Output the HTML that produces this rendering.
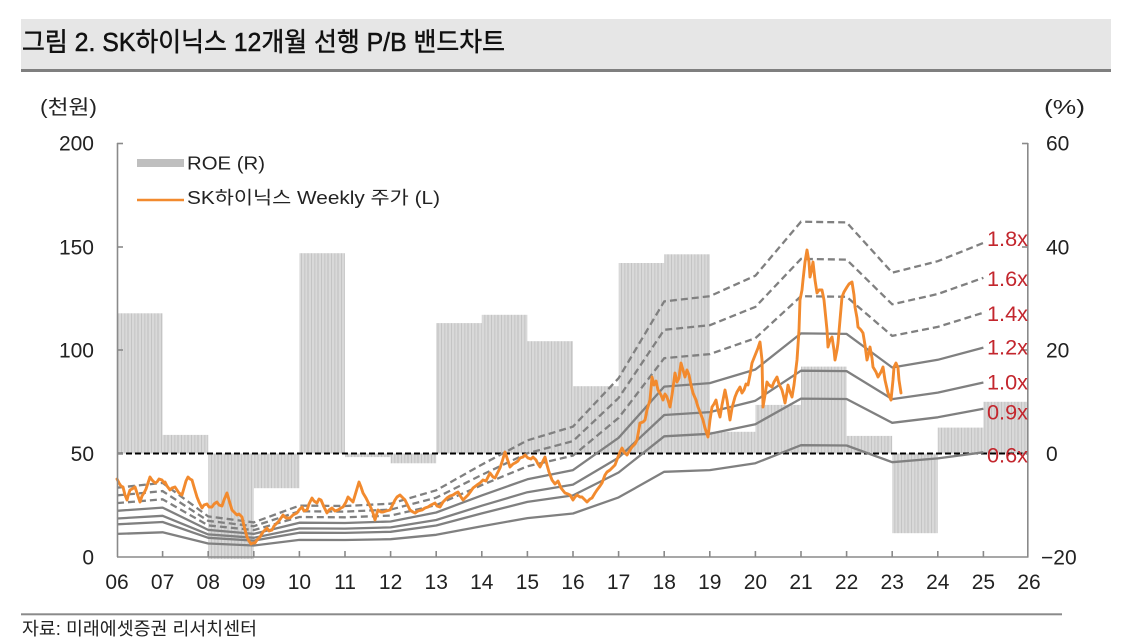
<!DOCTYPE html>
<html><head><meta charset="utf-8"><style>
html,body{margin:0;padding:0;background:#fff;}
svg{display:block;}
text{font-family:"Liberation Sans","Noto Sans CJK KR",sans-serif;}
</style></head><body>
<svg width="1133" height="642" viewBox="0 0 1133 642" xmlns="http://www.w3.org/2000/svg">
<defs>
<pattern id="h" width="10" height="10" patternUnits="userSpaceOnUse">
<rect width="10" height="10" fill="#d9d9d9"/>
<rect x="1" width="1" height="10" fill="#c4c4c4"/>
<rect x="4" width="1.5" height="10" fill="#cbcbcb"/>
<rect x="7.5" width="1" height="10" fill="#bfbfbf"/>
</pattern>
</defs>
<rect width="1133" height="642" fill="#fff"/>
<!-- title bar -->
<rect x="21" y="19" width="1090" height="50" fill="#e6e6e6"/>
<rect x="21" y="69" width="1090" height="3" fill="#7f7f7f"/>
<text x="22" y="51" font-size="26" fill="#111" stroke="#111" stroke-width="0.5" textLength="483" lengthAdjust="spacingAndGlyphs">그림 2. SK하이닉스 12개월 선행 P/B 밴드차트</text>

<!-- units -->
<text x="40" y="114" font-size="20" fill="#222" textLength="57" lengthAdjust="spacingAndGlyphs">(천원)</text>
<text x="1044" y="114" font-size="20" fill="#222" textLength="41" lengthAdjust="spacingAndGlyphs">(%)</text>

<!-- ROE bars -->
<g fill="url(#h)">
<rect x="117" y="313.3" width="45.6" height="140.2"/>
<rect x="162.6" y="434.9" width="45.6" height="18.6"/>
<rect x="208.2" y="453.5" width="45.6" height="105.6"/>
<rect x="253.8" y="453.5" width="45.6" height="34.7"/>
<rect x="299.4" y="253.2" width="45.6" height="200.3"/>
<rect x="345" y="453.5" width="45.6" height="3.6"/>
<rect x="390.6" y="453.5" width="45.6" height="9.8"/>
<rect x="436.2" y="323.1" width="45.6" height="130.4"/>
<rect x="481.8" y="314.8" width="45.6" height="138.7"/>
<rect x="527.4" y="341.2" width="45.6" height="112.3"/>
<rect x="573" y="386.2" width="45.6" height="67.3"/>
<rect x="618.6" y="263" width="45.6" height="190.5"/>
<rect x="664.2" y="254.3" width="45.6" height="199.2"/>
<rect x="709.8" y="431.8" width="45.6" height="21.7"/>
<rect x="755.4" y="404.9" width="45.6" height="48.6"/>
<rect x="801" y="366.6" width="45.6" height="86.9"/>
<rect x="846.6" y="435.9" width="45.6" height="17.6"/>
<rect x="892.2" y="453.5" width="45.6" height="79.7"/>
<rect x="937.8" y="427.6" width="45.6" height="25.9"/>
<rect x="983.4" y="401.8" width="44.4" height="51.7"/>
</g>

<!-- zero line -->
<line x1="117" y1="453.5" x2="1028" y2="453.5" stroke="#000" stroke-width="2" stroke-dasharray="6,3"/>

<!-- band lines -->
<g fill="none" stroke="#808080" stroke-width="2.3" stroke-linejoin="round">
<polyline points="117,533.9 162.6,532.3 208.2,543.5 253.8,545.5 299.4,539.9 345,540 390.6,539.2 436.2,534.8 481.8,526.2 527.4,518.1 573,513.5 618.6,497.4 664.2,471.8 709.8,470.1 755.4,463.2 801,445.2 846.6,445.5 892.2,462.2 937.8,458.4 983.4,452.3"/>
<polyline points="117,524.3 162.6,522 208.2,537.8 253.8,540.6 299.4,532.7 345,532.9 390.6,531.8 436.2,525.5 481.8,513.4 527.4,501.9 573,495.4 618.6,472.5 664.2,436.3 709.8,433.8 755.4,424.2 801,398.6 846.6,399 892.2,422.8 937.8,417.3 983.4,408.7"/>
<polyline points="117,518.5 162.6,515.8 208.2,534.4 253.8,537.8 299.4,528.4 345,528.6 390.6,527.4 436.2,520 481.8,505.7 527.4,492.2 573,484.6 618.6,457.6 664.2,415 709.8,412.1 755.4,400.7 801,370.7 846.6,371.1 892.2,399.1 937.8,392.6 983.4,382.5"/>
<polyline points="117,510.8 162.6,507.6 208.2,529.9 253.8,533.9 299.4,522.7 345,523 390.6,521.5 436.2,512.5 481.8,495.4 527.4,479.3 573,470.1 618.6,437.8 664.2,386.6 709.8,383.1 755.4,369.5 801,333.4 846.6,333.9 892.2,367.5 937.8,359.8 983.4,347.6"/>
</g>
<g fill="none" stroke="#808080" stroke-width="2.3" stroke-dasharray="7,4">
<polyline points="117,503.1 162.6,499.3 208.2,525.4 253.8,530.1 299.4,517 345,517.3 390.6,515.6 436.2,505.1 481.8,485.1 527.4,466.3 573,455.6 618.6,417.9 664.2,358.2 709.8,354.1 755.4,338.2 801,296.2 846.6,296.8 892.2,335.9 937.8,326.9 983.4,312.7"/>
<polyline points="117,495.4 162.6,491.1 208.2,520.9 253.8,526.2 299.4,511.3 345,511.6 390.6,509.6 436.2,497.7 481.8,474.9 527.4,453.3 573,441.1 618.6,398 664.2,329.8 709.8,325.2 755.4,306.9 801,258.9 846.6,259.6 892.2,304.3 937.8,294 983.4,277.8"/>
<polyline points="117,487.7 162.6,482.9 208.2,516.4 253.8,522.4 299.4,505.6 345,506 390.6,503.7 436.2,490.3 481.8,464.6 527.4,440.4 573,426.6 618.6,378.2 664.2,301.4 709.8,296.2 755.4,275.7 801,221.7 846.6,222.4 892.2,272.7 937.8,261.2 983.4,242.9"/>
</g>

<!-- price -->
<polyline fill="none" stroke="#f28a2e" stroke-width="2.9" stroke-linejoin="round" stroke-linecap="round" points="117,479 119,483 121,486 123,487 125,495 127,500 128,496 130,490 132,489 135,487 137,493 139,499 140,502 142,496 144,493 146,489 148,483 150,477 152,480 155,483 157,482 159,479 162,480 164,483 165,482 167,486 170,490 172,488 175,487 177,490 179,493 182,495 184,488 186,481 188,477 190,479 192,480 194,487 197,497 199,502 202,508 204,505 207,504 209,507 212,507 214,504 217,502 219,505 222,506 224,500 227,493 229,500 232,510 234,512 237,515 239,514 242,517 244,526 247,537 249,541 251,544 253,543 255,543 257,540 260,537 263,532 267,528 269,531 272,530 274,526 277,523 279,521 281,518 283,515 286,518 290,518 293,515 297,513 299,510 302,507 304,511 307,510 309,504 312,498 314,501 317,503 319,499 321,500 324,507 327,513 329,510 332,508 335,511 338,510 341,508 343,507 346,502 348,497 351,500 353,502 356,492 359,482 361,487 363,493 366,498 368,502 371,508 373,513 375,520 377,513 378,510 381,512 383,512 386,511 390,510 392,506 395,500 397,497 400,495 402,497 405,500 408,506 410,510 413,512 415,513 418,511 422,510 425,508 428,507 431,505 435,503 437,506 440,507 443,502 447,498 450,496 453,495 456,493 458,492 461,497 463,500 466,497 468,495 471,491 473,488 477,485 480,483 483,480 486,481 488,477 490,473 493,477 495,478 498,472 500,468 502,462 505,452 507,458 510,467 513,464 515,463 518,461 520,458 523,457 525,455 528,458 531,459 533,457 536,460 538,464 540,467 543,461 545,457 547,465 549,472 552,480 555,484 558,481 561,488 565,493 568,494 570,495 573,500 575,497 577,495 580,497 582,497 585,500 587,502 590,499 592,498 595,493 597,490 600,486 602,483 605,475 607,472 610,470 612,468 615,465 618,457 620,452 622,448 624,452 627,455 630,450 632,447 635,444 637,440 640,423 643,422 645,420 647,410 650,400 652,377 654,385 656,381 658,390 661,395 663,400 665,394 667,397 670,407 672,395 675,373 677,382 679,378 681,363 683,370 685,377 687,370 689,375 691,385 693,393 696,400 698,407 700,412 703,420 705,428 708,437 710,420 712,407 714,404 716,400 718,410 720,417 722,405 725,390 727,400 730,420 732,408 735,397 737,392 740,387 742,393 744,390 746,384 748,385 750,375 752,363 754,358 756,353 758,348 760,342 762,360 763,407 765,395 767,382 769,385 772,387 774,382 777,377 779,384 782,390 784,398 785,403 787,392 788,385 790,392 792,397 794,385 797,360 799,330 800,300 802,290 803,280 805,262 807,250 809,262 810,277 812,268 813,262 815,280 817,293 819,290 822,290 824,300 825,310 827,330 828,347 830,340 832,337 834,350 835,360 837,350 838,343 840,320 842,297 844,292 847,287 849,284 852,282 854,295 855,307 857,318 858,327 861,330 863,333 865,345 867,360 869,352 870,347 872,358 873,367 876,372 878,377 881,372 883,367 885,380 888,393 891,400 893,380 894,367 896,363 898,368 899,380 901,393"/>

<!-- axes -->
<g stroke="#8a8a8a" stroke-width="1.6" fill="none">
<line x1="117.5" y1="143" x2="117.5" y2="557"/>
<line x1="1027.8" y1="143" x2="1027.8" y2="557"/>
<line x1="117" y1="557" x2="1028.5" y2="557"/>
<line x1="117" y1="143.5" x2="123" y2="143.5"/>
<line x1="117" y1="247" x2="123" y2="247"/>
<line x1="117" y1="350" x2="123" y2="350"/>
<line x1="117" y1="453.5" x2="123" y2="453.5"/>
<line x1="1022" y1="143.5" x2="1028" y2="143.5"/>
<line x1="1022" y1="247" x2="1028" y2="247"/>
<line x1="1022" y1="350" x2="1028" y2="350"/>
<line x1="1022" y1="453.5" x2="1028" y2="453.5"/>
<path d="M162.6 557v-6M208.2 557v-6M253.8 557v-6M299.4 557v-6M345 557v-6M390.6 557v-6M436.2 557v-6M481.8 557v-6M527.4 557v-6M573 557v-6M618.6 557v-6M664.2 557v-6M709.8 557v-6M755.4 557v-6M801 557v-6M846.6 557v-6M892.2 557v-6M937.8 557v-6M983.4 557v-6"/>
</g>

<!-- left tick labels -->
<g font-size="21" fill="#222" text-anchor="end">
<text x="94" y="150.5">200</text>
<text x="94" y="254.5">150</text>
<text x="94" y="357.5">100</text>
<text x="94" y="461">50</text>
<text x="94" y="564.5">0</text>
</g>
<!-- right tick labels -->
<g font-size="21" fill="#222">
<text x="1046" y="150.5">60</text>
<text x="1046" y="254.5">40</text>
<text x="1046" y="357.5">20</text>
<text x="1046" y="461">0</text>
<text x="1041" y="564.5">−20</text>
</g>
<!-- x labels -->
<g font-size="21" fill="#222" text-anchor="middle">
<text x="117" y="589">06</text>
<text x="162.6" y="589">07</text>
<text x="208.2" y="589">08</text>
<text x="253.8" y="589">09</text>
<text x="299.4" y="589">10</text>
<text x="345" y="589">11</text>
<text x="390.6" y="589">12</text>
<text x="436.2" y="589">13</text>
<text x="481.8" y="589">14</text>
<text x="527.4" y="589">15</text>
<text x="573" y="589">16</text>
<text x="618.6" y="589">17</text>
<text x="664.2" y="589">18</text>
<text x="709.8" y="589">19</text>
<text x="755.4" y="589">20</text>
<text x="801" y="589">21</text>
<text x="846.6" y="589">22</text>
<text x="892.2" y="589">23</text>
<text x="937.8" y="589">24</text>
<text x="983.4" y="589">25</text>
<text x="1029" y="589">26</text>
</g>

<!-- band labels -->
<g font-size="21" fill="#c3262d">
<text x="987" y="246" textLength="41" lengthAdjust="spacingAndGlyphs">1.8x</text>
<text x="987" y="286" textLength="41" lengthAdjust="spacingAndGlyphs">1.6x</text>
<text x="987" y="321" textLength="41" lengthAdjust="spacingAndGlyphs">1.4x</text>
<text x="987" y="354.5" textLength="41" lengthAdjust="spacingAndGlyphs">1.2x</text>
<text x="987" y="389.5" textLength="41" lengthAdjust="spacingAndGlyphs">1.0x</text>
<text x="987" y="419.5" textLength="41" lengthAdjust="spacingAndGlyphs">0.9x</text>
<text x="987" y="462.5" textLength="41" lengthAdjust="spacingAndGlyphs">0.6x</text>
</g>

<!-- legend -->
<rect x="137" y="159" width="47" height="8" fill="#bfbfbf"/>
<text x="187" y="169.5" font-size="18" fill="#222" textLength="78" lengthAdjust="spacingAndGlyphs">ROE (R)</text>
<line x1="137" y1="200" x2="184" y2="200" stroke="#f28a2e" stroke-width="2.6"/>
<text x="187" y="204" font-size="18" fill="#222" textLength="253" lengthAdjust="spacingAndGlyphs">SK하이닉스 Weekly 주가 (L)</text>

<!-- footer -->
<rect x="21" y="613.3" width="1041" height="2" fill="#8a8a8a"/>
<text x="22" y="635" font-size="18" fill="#222" textLength="235" lengthAdjust="spacingAndGlyphs">자료: 미래에셋증권 리서치센터</text>
</svg>
</body></html>
